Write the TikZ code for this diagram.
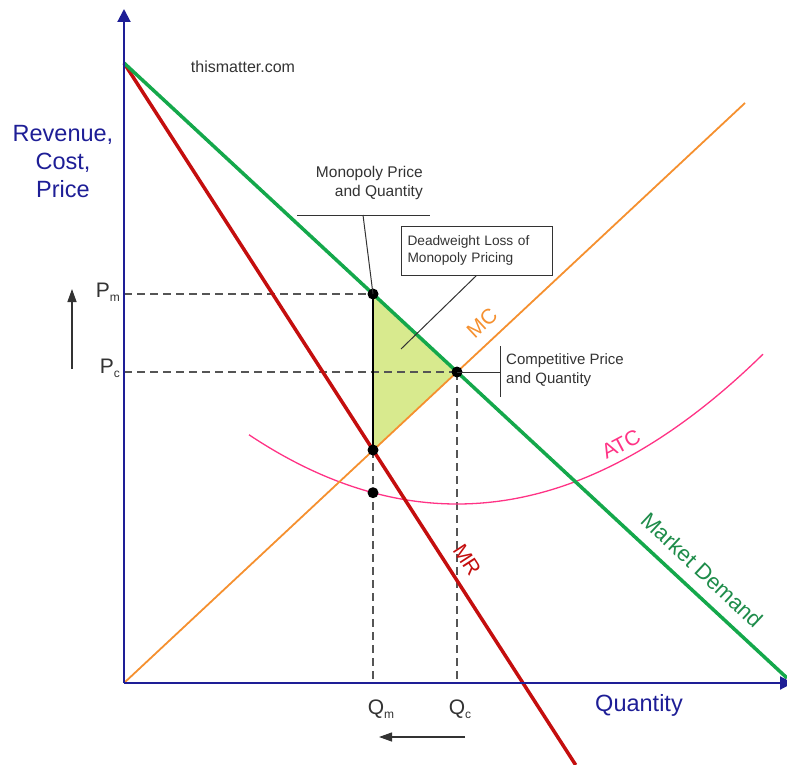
\documentclass[tikz,border=0pt]{standalone}
\usepackage{fontspec}
\setmainfont{Liberation Sans}
\usetikzlibrary{arrows.meta}
\definecolor{axisblue}{HTML}{1E1E96}
\definecolor{demgreen}{HTML}{14A84B}
\definecolor{demtext}{HTML}{1E8C4A}
\definecolor{mrred}{HTML}{C40E0E}
\definecolor{mcorange}{HTML}{F5902F}
\definecolor{atcpink}{HTML}{FF3385}
\definecolor{dwl}{HTML}{D8EA8E}
\definecolor{dashgray}{HTML}{555555}
\definecolor{txtgray}{HTML}{333333}
\newcommand{\fs}[2]{\fontsize{#1}{#2}\selectfont}
\begin{document}
\begin{tikzpicture}[x=1pt,y=-1pt,
  axisline/.style={draw=axisblue,line width=2pt},
  demandline/.style={draw=demgreen,line width=3.5pt},
  mrline/.style={draw=mrred,line width=3.5pt},
  mcline/.style={draw=mcorange,line width=1.8pt},
  atcline/.style={draw=atcpink,line width=1.3pt},
  guide/.style={draw=dashgray,line width=1.5pt,dash pattern=on 8pt off 5pt},
  leader/.style={draw=txtgray,line width=1pt},
  dot/.style={fill=black},
  note/.style={text=txtgray,inner sep=0pt},
  curvelabel/.style={inner sep=0pt,font=\fs{21}{24}}]
\useasboundingbox (0,0) rectangle (787,765);
% key points
\coordinate (O) at (124,683);
\coordinate (Ytop) at (124,9);
\coordinate (Xend) at (793,683);
\coordinate (A) at (124,63);
\coordinate (Dend) at (787,678);
\coordinate (MRend) at (575.7,765);
\coordinate (MCend) at (745,103);
\coordinate (Mp) at (373,294);
\coordinate (Cp) at (457,372);
\coordinate (Mr) at (373,450);
\coordinate (Ma) at (373,492.7);
\coordinate (PmAx) at (124,294);
\coordinate (PcAx) at (124,372);
\coordinate (QmAx) at (373,683);
\coordinate (QcAx) at (457,683);
% deadweight triangle
\fill[dwl] (Mp) -- (Cp) -- (Mr) -- cycle;
% guides
\draw[guide] (PmAx) -- (Mp);
\draw[guide] (PcAx) -- (Cp);
\draw[guide] (Mr) -- (QmAx);
\draw[guide] (Cp) -- (QcAx);
\draw[black,line width=1.5pt] (Mp) -- (Mr);
% curves
\draw[atcline] plot[domain=249:763,samples=80,smooth] (\x,{504-0.16*((\x-457)/10)^2});
\draw[mcline] (O) -- (MCend);
\draw[mrline] (A) -- (MRend);
\draw[demandline] (A) -- (Dend);
% axes
\draw[axisline,-{Triangle[width=13pt,length=13pt]}] (O) -- (Ytop);
\draw[axisline,-{Triangle[width=13pt,length=13pt]}] (O) -- (Xend);
% dots
\foreach \p in {Mp,Cp,Mr,Ma} \fill[dot] (\p) circle (5.5pt);
% axis labels
\node[text=axisblue,align=center,font=\fs{23.5}{28}] (ylab) at (63,162) {Revenue,\\Cost,\\Price};
\node[text=axisblue,font=\fs{23.5}{28}] (xlab) at (639,705) {Quantity};
\node[note,font=\fs{16}{19}] (site) at (243,67) {thismatter.com};
% P and Q labels
\node[note,anchor=east,font=\fs{21}{24}] (pm) at (120,292) {P\raisebox{-4pt}{\fs{12}{14}m}};
\node[note,anchor=east,font=\fs{21}{24}] (pc) at (120,368) {P\raisebox{-4pt}{\fs{12}{14}c}};
\node[note,font=\fs{21}{24}] (qm) at (381,709) {Q\raisebox{-4pt}{\fs{12}{14}m}};
\node[note,font=\fs{21}{24}] (qc) at (460,709) {Q\raisebox{-4pt}{\fs{12}{14}c}};
\coordinate (upS) at (72,369);
\coordinate (upE) at (72,289);
\draw[leader,line width=1.3pt,-{Triangle[width=9pt,length=13pt]}] (upS) -- (upE);
\coordinate (lfS) at (465,737);
\coordinate (lfE) at (379,737);
\draw[leader,line width=1.3pt,-{Triangle[width=9pt,length=13pt]}] (lfS) -- (lfE);
% monopoly callout
\node[note,anchor=east,align=right,font=\fs{15.5}{19}] (mono) at (423,182.5) {Monopoly Price\\and Quantity};
\coordinate (mL) at (297,215);
\coordinate (mR) at (430,215);
\coordinate (mK) at (363,215);
\draw[leader] (mL) -- (mR);
\draw[leader] (mK) -- (Mp);
% deadweight box
\node[draw=txtgray,line width=1pt,text=txtgray,align=left,text width=138pt,inner xsep=6.5pt,inner ysep=0pt,
  minimum width=151pt,minimum height=49pt,font=\fs{13.7}{16.5}] (dwlbox) at (476.5,250.5)
  {Deadweight Loss of\\Monopoly Pricing};
\coordinate (dwlTip) at (401,349);
\draw[leader] (dwlbox.south) -- (dwlTip);
% competitive callout
\coordinate (cT) at (500,346);
\coordinate (cB) at (500,397);
\coordinate (cM) at (500,372);
\draw[leader] (cT) -- (cB);
\draw[leader] (Cp) -- (cM);
\node[note,anchor=west,align=left,font=\fs{15}{19}] (comp) at (506,370.5) {Competitive Price\\and Quantity};
% curve labels
\node[curvelabel,text=mcorange,rotate=43] (mclab) at (482,323) {MC};
\node[curvelabel,text=atcpink,rotate=28] (atclab) at (621,444) {ATC};
\node[curvelabel,text=demtext,rotate=-43,font=\fs{22}{26}] (dlab) at (702,570) {Market Demand};
\node[curvelabel,text=mrred,rotate=-57] (mrlab) at (467,560) {MR};
\end{tikzpicture}
\end{document}
